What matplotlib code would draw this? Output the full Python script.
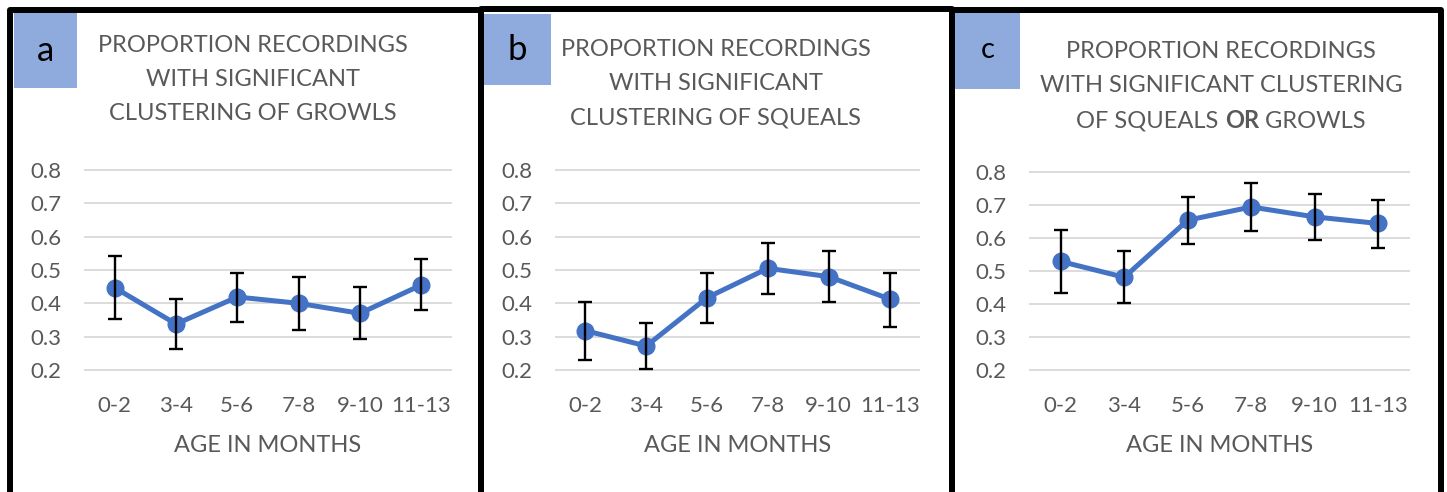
import matplotlib
matplotlib.use("Agg")
import matplotlib.pyplot as plt
from matplotlib.patches import Rectangle
from matplotlib.lines import Line2D
import numpy as np

plt.rcParams['font.family'] = ['Lato', 'DejaVu Sans']

ages = ["0-2", "3-4", "5-6", "7-8", "9-10", "11-13"]
y_ticks = [0.2, 0.3, 0.4, 0.5, 0.6, 0.7, 0.8]

growls = [0.447, 0.338, 0.419, 0.400, 0.370, 0.455]
growls_lo = [0.353, 0.263, 0.344, 0.320, 0.293, 0.379]
growls_hi = [0.542, 0.413, 0.491, 0.479, 0.449, 0.534]

squeals = [0.318, 0.272, 0.417, 0.505, 0.480, 0.413]
squeals_lo = [0.230, 0.203, 0.340, 0.429, 0.404, 0.330]
squeals_hi = [0.405, 0.342, 0.491, 0.581, 0.557, 0.492]

either = [0.529, 0.481, 0.654, 0.694, 0.664, 0.644]
either_lo = [0.433, 0.403, 0.581, 0.621, 0.593, 0.569]
either_hi = [0.623, 0.561, 0.724, 0.767, 0.734, 0.716]

panel_letters = ["a", "b", "c"]
titles = [
    ["PROPORTION RECORDINGS", "WITH SIGNIFICANT", "CLUSTERING OF GROWLS"],
    ["PROPORTION RECORDINGS", "WITH SIGNIFICANT", "CLUSTERING OF SQUEALS"],
    ["PROPORTION RECORDINGS", "WITH SIGNIFICANT CLUSTERING", None],
]
xlabel = "AGE IN MONTHS"

W, H = 1447, 492
fig = plt.figure(figsize=(W / 100, H / 100), dpi=100)
fig.patch.set_facecolor("white")

def fx(px):
    return px / W

def fy(py):
    return 1 - py / H

BLUE = "#4472C4"
GRAY = "#595959"
GRID = "#d9d9d9"
LABEL_BOX = "#8faadc"

# panel layouts in pixels
axes_px = [  # left, right, y(0.8), y(0.2)
    (84, 452, 170, 370),
    (555, 920, 170, 370),
    (1029, 1410, 172, 370),
]
title_cx = [253, 716, 1221]
title_y = [(45, 79, 113), (50, 84, 118), (52, 86, 121)]
label_boxes = [(14, 12, 77, 88), (483, 14, 551, 85), (955, 10, 1020, 89)]
label_sizes = [25, 25, 21]
borders = [(10, 10, 481, 500), (481, 8.5, 952, 500), (952, 10, 1441, 500)]

data = [(growls, growls_lo, growls_hi), (squeals, squeals_lo, squeals_hi), (either, either_lo, either_hi)]

for i in range(3):
    l, r, ytop, ybot = axes_px[i]
    pad = (ybot - ytop) / 60.0  # px per 0.01
    ax = fig.add_axes([fx(l), fy(ybot + pad), fx(r - l), (ybot - ytop + 2 * pad) / H])
    ax.set_xlim(-0.5, 5.5)
    ax.set_ylim(0.19, 0.81)
    for s in ax.spines.values():
        s.set_visible(False)
    ax.set_yticks(y_ticks)
    ax.set_yticklabels([f"{v:.1f}" for v in y_ticks])
    ax.set_xticks(range(len(ages)))
    ax.set_xticklabels(ages)
    ax.tick_params(axis="both", length=0, labelsize=16, colors=GRAY)
    ax.tick_params(axis="y", pad=16)
    ax.tick_params(axis="x", pad=16)
    ax.grid(axis="y", color=GRID, linewidth=1.3)
    ax.set_axisbelow(True)
    vals, lo, hi = data[i]
    vals = np.array(vals)
    yerr = np.vstack([vals - np.array(lo), np.array(hi) - vals])
    x = np.arange(len(ages))
    ax.plot(x, vals, color=BLUE, linewidth=3.6, marker="o", markersize=12, zorder=3)
    ax.errorbar(x, vals, yerr=yerr, fmt="none", ecolor="black", elinewidth=1.7,
                capsize=5.3, capthick=1.7, zorder=4)
    ax.set_xlabel(xlabel, fontsize=17, color=GRAY, labelpad=14)

    # titles
    for j, line in enumerate(titles[i]):
        if line is not None:
            fig.text(fx(title_cx[i]), fy(title_y[i][j]), line, ha="center", va="center",
                     fontsize=17, color=GRAY)

    # label box
    x0, y0, x1, y1 = label_boxes[i]
    fig.patches.append(Rectangle((fx(x0), fy(y1)), fx(x1 - x0), (y1 - y0) / H,
                                 transform=fig.transFigure, facecolor=LABEL_BOX,
                                 edgecolor="none", zorder=1))
    fig.text(fx((x0 + x1) / 2), fy((y0 + y1) / 2 + 1), panel_letters[i], ha="center", va="center",
             fontsize=label_sizes[i], color="black", zorder=2)

    # border
    bx0, by0, bx1, by1 = borders[i]
    fig.add_artist(Line2D([fx(bx0), fx(bx0), fx(bx1), fx(bx1)], [fy(by1), fy(by0), fy(by0), fy(by1)],
                          transform=fig.transFigure, color="black", linewidth=4.3,
                          solid_joinstyle="round", zorder=5))

# mixed-weight third title line of panel c
fig.canvas.draw()
renderer = fig.canvas.get_renderer()
parts = [("OF SQUEALS ", "normal"), ("OR", "bold"), (" GROWLS", "normal")]
texts = []
for s, w in parts:
    t = fig.text(0, fy(title_y[2][2]), s, ha="left", va="center", fontsize=17,
                 color=GRAY, fontweight=w)
    texts.append(t)
widths = [t.get_window_extent(renderer).width for t in texts]
total = sum(widths)
start = title_cx[2] - total / 2
for t, w in zip(texts, widths):
    t.set_x(fx(start))
    start += w

fig.savefig("out.png", dpi=100, facecolor="white")
